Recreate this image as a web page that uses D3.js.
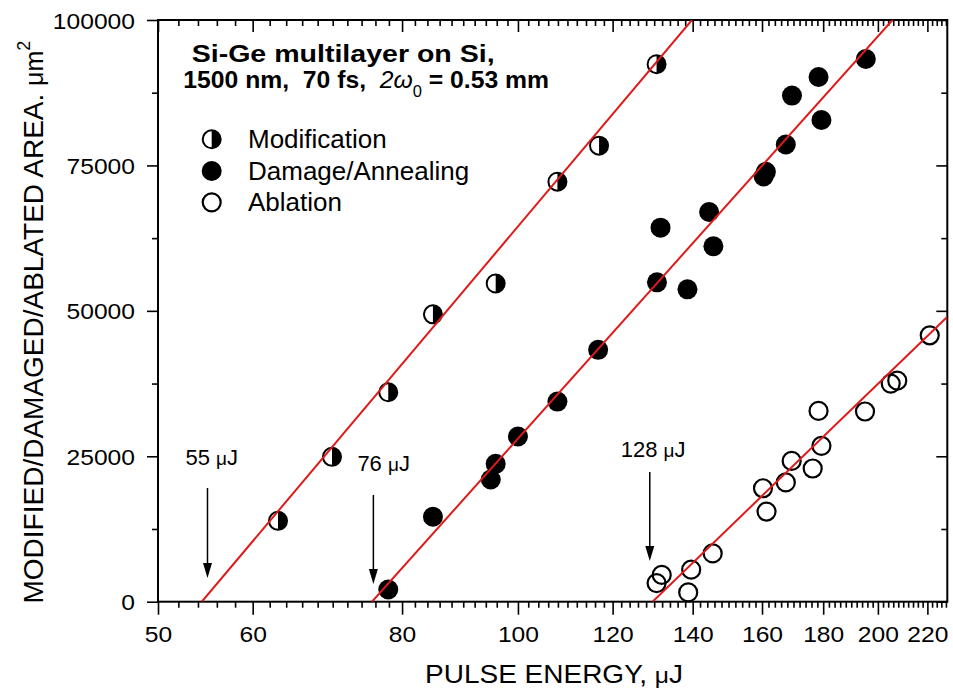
<!DOCTYPE html>
<html>
<head>
<meta charset="utf-8">
<script src="https://cdn.jsdelivr.net/npm/d3@7"></script>
<style>
  body { margin: 0; background: #fff; }
  svg { display: block; }
  text { font-family: "Liberation Sans", Arial, sans-serif; fill: #000; }
</style>
</head>
<body>
<svg id="chart" width="953" height="693"></svg>
<script>
// ---------- data ----------
const xDomain = [50, 228.6];
const yDomain = [0, 100000];
const xMajorTicks = [50, 60, 80, 100, 120, 140, 160, 180, 200, 220];
const yMajorTicks = [0, 25000, 50000, 75000, 100000];

const modE = [63.0, 69.9, 77.9, 84.9, 95.8, 107.9, 116.9, 130.6];
const modA = [13900, 24900, 36000, 49400, 54700, 72200, 78400, 92400];

const dmgE = [77.9, 84.9, 94.9, 95.8, 100.0, 107.9, 116.7, 130.7, 131.6, 138.6, 144.5, 145.7, 160.5, 161.2, 167.5, 169.5, 178.4, 179.4, 195.4];
const dmgA = [2100, 14600, 21000, 23700, 28400, 34400, 43300, 54900, 64300, 53700, 67000, 61100, 73100, 73900, 78600, 87000, 90200, 82800, 93300];

const ablE = [131.9, 130.6, 138.8, 139.6, 145.5, 160.3, 161.4, 167.5, 169.4, 176.4, 178.4, 179.4, 195.1, 205.0, 207.6, 221.0];
const ablA = [4600, 3200, 1600, 5500, 8300, 19500, 15500, 20500, 24200, 22900, 32800, 26800, 32700, 37500, 38000, 45800];

// linear fits of area vs ln(E): start (area 0) and end points
const fitStartE = [54.4, 75.5, 129.6];
const fitEndE = [139.8, 205.7, 228.4];
const fitEndA = [100000, 100000, 48900];

const thresholdLabels = ["55 \u03bcJ", "76 \u03bcJ", "128 \u03bcJ"];
const thresholdE = [55.0, 75.7, 128.9];

const legendLabels = ["Modification", "Damage/Annealing", "Ablation"];

// ---------- layout ----------
const svg = d3.select("#chart");
const L = 158, R = 947.3, T = 20, B = 601.7;
const x = d3.scaleLog().domain(xDomain).range([L, R]);
const y = d3.scaleLinear().domain(yDomain).range([B, T]);
const SX = 1.12; // horizontal text stretch

const xMinor = d3.range(52, 229, 2).filter(v => !xMajorTicks.includes(v));
const yMinor = [12500, 37500, 62500, 87500];

// minor ticks
svg.append("g").attr("transform", `translate(0,${B})`)
  .call(d3.axisBottom(x).tickValues(xMinor).tickSize(6).tickFormat(""))
  .call(g => g.select(".domain").remove());
svg.append("g").attr("transform", `translate(0,${T})`)
  .call(d3.axisTop(x).tickValues(xMinor).tickSize(-6).tickFormat(""))
  .call(g => g.select(".domain").remove());
svg.append("g").attr("transform", `translate(${L},0)`)
  .call(d3.axisLeft(y).tickValues(yMinor).tickSize(6).tickFormat(""))
  .call(g => g.select(".domain").remove());
svg.append("g").attr("transform", `translate(${R},0)`)
  .call(d3.axisRight(y).tickValues(yMinor).tickSize(-6).tickFormat(""))
  .call(g => g.select(".domain").remove());

// major ticks + labels
const gx = svg.append("g").attr("transform", `translate(0,${B})`)
  .call(d3.axisBottom(x).tickValues(xMajorTicks).tickSize(13).tickFormat(d3.format("d")))
  .call(g => g.select(".domain").remove());
gx.selectAll("text").attr("y", 0).attr("dy", null)
  .attr("transform", `translate(0,40) scale(${SX},1)`)
  .style("font-size", "22px");

svg.append("g").attr("transform", `translate(0,${T})`)
  .call(d3.axisTop(x).tickValues(xMajorTicks).tickSize(-12).tickFormat(""))
  .call(g => g.select(".domain").remove());

const gy = svg.append("g").attr("transform", `translate(${L},0)`)
  .call(d3.axisLeft(y).tickValues(yMajorTicks).tickSize(11).tickFormat(d3.format("d")))
  .call(g => g.select(".domain").remove());
gy.selectAll("text").attr("x", 0).attr("dy", null)
  .attr("transform", `translate(-23,8) scale(${SX},1)`)
  .style("font-size", "22px");

svg.append("g").attr("transform", `translate(${R},0)`)
  .call(d3.axisRight(y).tickValues(yMajorTicks).tickSize(-11).tickFormat(""))
  .call(g => g.select(".domain").remove());

svg.selectAll(".tick line").attr("stroke", "#000").attr("stroke-width", 1.6);

// frame
svg.append("rect").attr("x", L).attr("y", T).attr("width", R - L).attr("height", B - T)
  .attr("fill", "none").attr("stroke", "#000").attr("stroke-width", 2);

// ---------- markers ----------
const r = 9;
const gm = svg.append("g");
function half(g, cx, cy) {
  g.append("circle").attr("cx", cx).attr("cy", cy).attr("r", r).attr("fill", "#fff");
  g.append("path").attr("d", `M${cx},${cy - r} A${r},${r} 0 0 1 ${cx},${cy + r} Z`).attr("fill", "#000");
  g.append("circle").attr("cx", cx).attr("cy", cy).attr("r", r).attr("fill", "none")
    .attr("stroke", "#000").attr("stroke-width", 2);
}
function full(g, cx, cy) {
  g.append("circle").attr("cx", cx).attr("cy", cy).attr("r", r + 1).attr("fill", "#000");
}
function open(g, cx, cy) {
  g.append("circle").attr("cx", cx).attr("cy", cy).attr("r", r).attr("fill", "none")
    .attr("stroke", "#000").attr("stroke-width", 2.2);
}
ablE.forEach((e, i) => open(gm, x(e), y(ablA[i])));
dmgE.forEach((e, i) => full(gm, x(e), y(dmgA[i])));
modE.forEach((e, i) => half(gm, x(e), y(modA[i])));

// ---------- fit lines ----------
svg.append("clipPath").attr("id", "clip").append("rect")
  .attr("x", L).attr("y", T).attr("width", R - L).attr("height", B - T);
const gl = svg.append("g").attr("clip-path", "url(#clip)");
fitStartE.forEach((e0, i) => {
  gl.append("line")
    .attr("x1", x(e0)).attr("y1", y(0))
    .attr("x2", x(fitEndE[i])).attr("y2", y(fitEndA[i]))
    .attr("stroke", "#de1a1a").attr("stroke-width", 2);
});

// ---------- threshold arrows ----------
const arrowTop = [488, 495, 472];
const arrowTip = [578, 584, 561];
const labelDx = [-22, -16, -29];
const labelY = [465, 471, 457];
thresholdE.forEach((e, i) => {
  const ax = x(e);
  svg.append("line").attr("x1", ax).attr("x2", ax)
    .attr("y1", arrowTop[i]).attr("y2", arrowTip[i] - 12)
    .attr("stroke", "#000").attr("stroke-width", 1.5);
  svg.append("path")
    .attr("d", `M${ax - 4.5},${arrowTip[i] - 15} L${ax + 4.5},${arrowTip[i] - 15} L${ax},${arrowTip[i]} Z`)
    .attr("fill", "#000");
  const parts = thresholdLabels[i].split(" ");
  const t = svg.append("text").attr("x", ax + labelDx[i]).attr("y", labelY[i])
    .style("font-size", "22px");
  t.append("tspan").text(parts[0] + " ");
  t.append("tspan").style("font-size", "19px").text(parts[1].charAt(0));
  t.append("tspan").text(parts[1].slice(1));
});

// ---------- legend ----------
const legY = [139.3, 171, 202.3];
const legX = 211.7;
half(svg, legX, legY[0]);
full(svg, legX, legY[1]);
open(svg, legX, legY[2]);
legendLabels.forEach((s, i) => {
  svg.append("text")
    .attr("transform", `translate(248,${legY[i] + 9}) scale(1.04,1)`)
    .style("font-size", "25px").text(s);
});

// ---------- title ----------
svg.append("text")
  .attr("transform", `translate(191.7,61.7) scale(1.19,1)`)
  .style("font-size", "24px").style("font-weight", "bold")
  .text("Si-Ge multilayer on Si,");
const t2 = svg.append("text")
  .attr("transform", `translate(183.3,88.3) scale(1.03,1)`)
  .style("font-size", "24px").style("font-weight", "bold")
  .style("white-space", "pre");
t2.append("tspan").text("1500 nm,  70 fs,  ");
t2.append("tspan").style("font-weight", "normal").style("font-style", "italic").text("2\u03c9");
t2.append("tspan").style("font-weight", "normal").style("font-size", "16px").attr("dy", 9).text("0");
t2.append("tspan").attr("dy", -9).text(" = 0.53 mm");

// ---------- axis titles ----------
const xt = svg.append("text")
  .attr("transform", `translate(554,683.3) scale(1.12,1)`)
  .attr("text-anchor", "middle").style("font-size", "25px");
xt.append("tspan").text("PULSE ENERGY, ");
xt.append("tspan").style("font-size", "22px").text("\u03bc");
xt.append("tspan").text("J");

const yt = svg.append("text")
  .attr("transform", `translate(42.7,603.5) rotate(-90)`)
  .style("font-size", "28px");
yt.append("tspan").text("MODIFIED/DAMAGED/ABLATED AREA. ");
yt.append("tspan").style("font-size", "25px").text("\u03bcm");
yt.append("tspan").style("font-size", "18px").attr("dy", -13).text("2");
</script>
</body>
</html>
